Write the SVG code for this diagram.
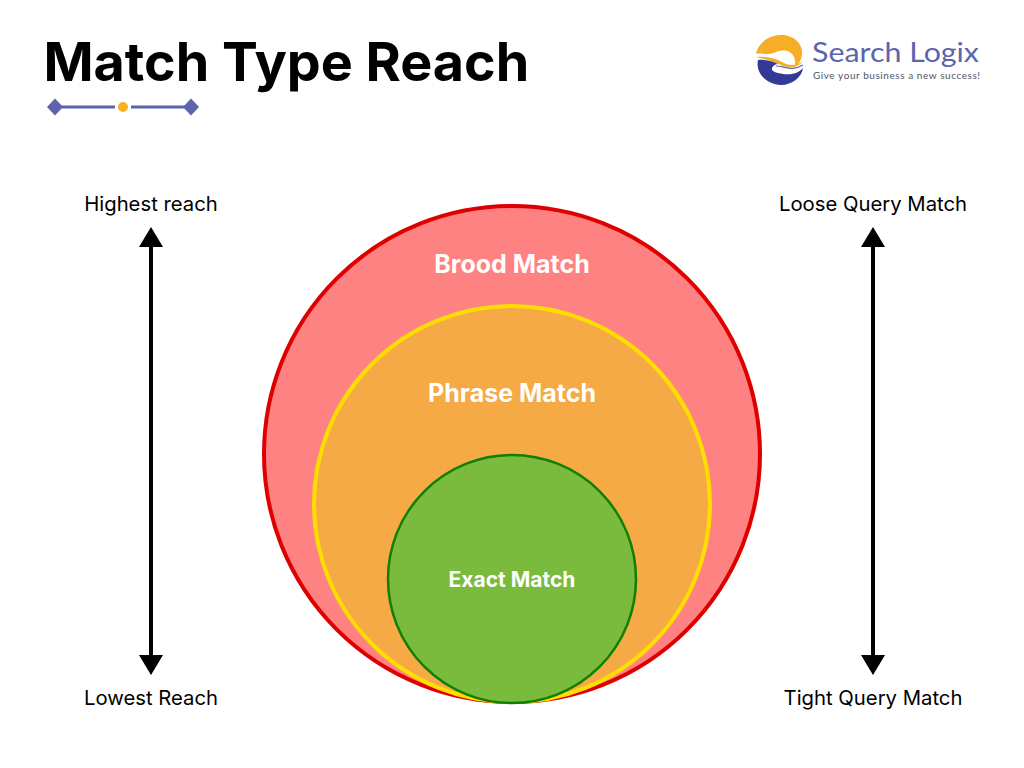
<svg xmlns="http://www.w3.org/2000/svg" width="1024" height="768" viewBox="0 0 1024 768">
<style>
text{font-family:Inter,"Liberation Sans",sans-serif}
.lab{font-size:20.300px;fill:#000;text-anchor:middle}
.in{font-weight:700;fill:#fff;text-anchor:middle}
.arrow{stroke:#000;stroke-width:4;fill:none;marker-start:url(#head);marker-end:url(#head)}
</style>
<defs>
<marker id="head" viewBox="0 0 20 24" refX="1" refY="12" markerWidth="20" markerHeight="24" markerUnits="userSpaceOnUse" orient="auto-start-reverse"><path d="M0 0L20 12L0 24Z" fill="#000"/></marker>
</defs>
<rect width="1024" height="768" fill="#fff"/>
<text id="title" x="43.500" y="80.500" font-size="53.800" font-weight="700" fill="#000">Match Type Reach</text>
<g id="divider">
<path d="M55 107H115M131 107H191" stroke="#5c64ae" stroke-width="3"/>
<path d="M55 98.500L63 107L55 115.500L47 107Z" fill="#5c64ae"/>
<path d="M191 98.500L199 107L191 115.500L183 107Z" fill="#5c64ae"/>
<circle cx="123" cy="107" r="5" fill="#f5b324"/>
</g>
<g id="logo">
<path d="M756 54C758 43 769 35 781 35C794 35 803 44 802 54C802 59 799 64 795 66C796 60 794 53 787 51C779 49 775 54 768 54C763 54 759 53 756 54Z" fill="#f5ae26"/>
<path d="M756 57C766 56 775 58 782 62C789 66 796 66 803 61C797 69 788 68 781 65C773 61 764 59 756 57Z" fill="#f5ae26"/>
<path d="M758 60C755 74 768 85 781 85C792 85 802 77 803 68C798 74 790 75 783 74C777 73 771 72 772 68C773 65 776 64 778 64C772 61 764 59 758 60Z" fill="#343896"/>
<path d="M776 66C785 66 791 72 803 65" fill="none" stroke="#5c64ae" stroke-width="1.200"/>
<text x="812" y="62" font-size="27" fill="#5c64ae" style="font-family:Lato,sans-serif" textLength="167" lengthAdjust="spacingAndGlyphs">Search Logix</text>
<text x="813" y="79" font-size="10" fill="#4a5666" style="font-family:Lato,sans-serif" textLength="167" lengthAdjust="spacing">Give your business a new success!</text>
</g>
<g id="connectors">
<path class="arrow" d="M151 246V656"/>
<path class="arrow" d="M873 246V656"/>
</g>
<g id="broad"><circle cx="512" cy="454" r="248" fill="#ff8282" stroke="#de0000" stroke-width="4"/><text class="in" x="512" y="273" font-size="25">Brood Match</text></g>
<g id="phrase"><circle cx="512" cy="504" r="198" fill="#f6aa45" stroke="#ffde00" stroke-width="4"/><text class="in" x="512" y="402" font-size="25">Phrase Match</text></g>
<g id="exact"><circle cx="512" cy="579" r="124" fill="#7aba3c" stroke="#0f7f00" stroke-width="2.500"/><text class="in" x="512" y="587" font-size="21">Exact Match</text></g>
<g id="label-highest"><text class="lab" x="151" y="211">Highest reach</text></g>
<g id="label-lowest"><text class="lab" x="151" y="705">Lowest Reach</text></g>
<g id="label-loose"><text class="lab" x="873" y="211">Loose Query Match</text></g>
<g id="label-tight"><text class="lab" x="873" y="705">Tight Query Match</text></g>
</svg>
